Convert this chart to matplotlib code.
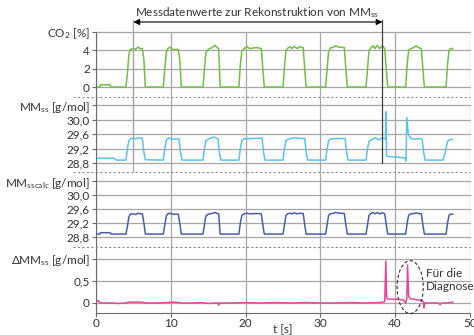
import matplotlib
matplotlib.use('Agg')
import matplotlib.pyplot as plt
from matplotlib.patches import Ellipse
from matplotlib.lines import Line2D
import matplotlib.transforms as mtrans

plt.rcParams['font.family'] = ['Lato', 'DejaVu Sans']
plt.rcParams['mathtext.fontset'] = 'custom'
plt.rcParams['mathtext.rm'] = 'Lato'
plt.rcParams['mathtext.it'] = 'Lato'

# CO2 [%]
co2_t = [0, 0.5, 0.6, 1.9, 2.0, 4.0, 4.2, 4.4, 4.6, 5.0, 5.3, 5.6, 5.9, 6.2, 6.4, 6.6,
         9.0, 9.2, 9.4, 9.6, 9.9, 10.2, 11.0, 11.2, 11.4,
         14.3, 14.5, 14.7, 15.0, 15.5, 15.9, 16.2, 16.4, 16.6,
         19.1, 19.3, 19.5, 19.8, 20.2, 20.5, 21.5, 22.1, 22.3, 22.5,
         25.0, 25.2, 25.4, 25.6, 25.9, 26.2, 26.5, 26.9, 27.3, 27.7, 27.9, 28.1,
         30.7, 30.9, 31.1, 31.4, 31.7, 32.0, 32.5, 33.2, 33.4, 33.6,
         36.1, 36.3, 36.5, 36.7, 37.0, 37.3, 37.6, 37.9, 38.3, 38.6, 38.8, 39.0,
         41.4, 41.6, 41.8, 42.1, 42.5, 42.8, 43.1, 43.5, 43.7, 43.9,
         46.8, 47.0, 47.2, 47.4, 47.7]
co2_v = [0, 0, 0.25, 0.25, 0, 0, 1.5, 3.6, 4.1, 4.2, 4.1, 4.35, 4.2, 4.2, 3.0, 0,
         0, 2.0, 3.8, 4.2, 4.35, 4.1, 4.1, 3.0, 0,
         0, 2.0, 3.8, 4.1, 4.3, 4.55, 4.3, 4.2, 0,
         0, 2.5, 3.9, 4.2, 4.4, 4.2, 4.3, 4.2, 2.0, 0,
         0, 2.2, 4.0, 4.2, 4.4, 4.2, 4.45, 4.2, 4.4, 4.3, 2.0, 0,
         0, 2.0, 3.9, 4.3, 4.3, 4.5, 4.35, 4.3, 2.0, 0,
         0, 2.0, 4.0, 4.2, 4.5, 4.2, 4.55, 4.2, 4.5, 4.2, 2.0, 0,
         0, 2.5, 4.0, 4.2, 4.3, 4.5, 4.3, 4.2, 2.0, 0,
         0, 2.5, 4.0, 4.2, 4.2]

# MM_ss [g/mol]
mm_t = [0, 2.5, 2.7, 4.0, 4.2, 4.4, 4.7, 5.2, 5.8, 6.2, 6.4, 6.6,
        9.0, 9.2, 9.4, 9.7, 10.2, 11.1, 11.3, 11.5,
        14.3, 14.5, 14.7, 15.2, 15.8, 16.3, 16.5, 16.7,
        19.1, 19.3, 19.5, 19.8, 21.0, 22.2, 22.4, 22.6,
        25.0, 25.2, 25.4, 25.7, 26.5, 27.5, 27.9, 28.1, 28.3,
        30.7, 30.9, 31.1, 31.4, 32.5, 33.3, 33.5, 33.7,
        36.1, 36.3, 36.5, 36.8, 37.3, 37.8, 38.3, 38.7, 38.78, 38.84, 39.0,
        40.5, 41.3, 41.45, 41.55, 41.75, 42.0, 42.4, 43.2, 43.6, 43.8, 44.0,
        46.4, 46.7, 47.0, 47.3, 47.7]
mm_v = [28.93, 28.93, 28.88, 28.88, 29.2, 29.42, 29.48, 29.47, 29.5, 29.48, 29.1, 28.89,
        28.88, 29.2, 29.43, 29.5, 29.46, 29.47, 29.1, 28.88,
        28.88, 29.2, 29.42, 29.48, 29.52, 29.47, 29.1, 28.88,
        28.88, 29.2, 29.42, 29.47, 29.48, 29.49, 29.1, 28.88,
        28.88, 29.2, 29.42, 29.46, 29.5, 29.48, 29.48, 29.1, 28.88,
        28.88, 29.2, 29.42, 29.47, 29.48, 29.48, 29.1, 28.88,
        28.88, 29.2, 29.4, 29.44, 29.5, 29.44, 29.5, 29.46, 30.22, 29.02, 28.98,
        28.96, 28.94, 28.85, 30.06, 29.6, 29.5, 29.46, 29.48, 29.46, 29.1, 28.88,
        28.88, 29.1, 29.4, 29.45, 29.45]

# MM_sscalc [g/mol]
mmc_t = co2_t
mmc_v = [28.88, 28.88, 28.92, 28.92, 28.88, 28.88, 29.1, 29.38, 29.45, 29.46, 29.44, 29.48, 29.46, 29.46, 29.2, 28.88,
         28.88, 29.15, 29.4, 29.46, 29.48, 29.45, 29.45, 29.2, 28.88,
         28.88, 29.15, 29.4, 29.45, 29.47, 29.5, 29.47, 29.46, 28.88,
         28.88, 29.2, 29.42, 29.46, 29.48, 29.46, 29.47, 29.46, 29.15, 28.88,
         28.88, 29.15, 29.42, 29.46, 29.48, 29.46, 29.49, 29.46, 29.48, 29.47, 29.15, 28.88,
         28.88, 29.15, 29.42, 29.47, 29.47, 29.5, 29.48, 29.47, 29.15, 28.88,
         28.88, 29.15, 29.42, 29.46, 29.5, 29.46, 29.5, 29.46, 29.49, 29.46, 29.15, 28.88,
         28.88, 29.2, 29.42, 29.46, 29.47, 29.49, 29.47, 29.46, 29.15, 28.88,
         28.88, 29.2, 29.42, 29.45, 29.45]

# Delta MM_ss [g/mol]
dmm_t = [0, 0.3, 0.6, 2.0, 3.0, 4.0, 4.5, 6.0, 6.8, 8.0, 9.5, 10.5, 11.5, 13.0, 14.0,
         15.0, 16.3, 16.4, 16.5, 18.0, 20.0, 22.0, 24.0, 26.0, 28.0, 30.0, 32.0,
         34.0, 36.0, 38.0, 38.6, 38.75, 38.85, 39.0, 40.5, 41.1, 41.4, 41.55, 41.65,
         41.8, 42.0, 43.0, 43.6, 43.8, 43.85, 43.95, 45.0, 45.8, 46.0, 46.2, 47.0, 47.7]
dmm_v = [0.05, 0.05, 0.0, 0.0, -0.01, 0.0, 0.02, 0.02, 0.0, 0.0, 0.01, 0.02, 0.0, 0.0, 0.01,
         -0.01, 0.0, -0.05, 0.0, 0.0, 0.01, 0.0, 0.01, 0.0, 0.01, 0.0, 0.0,
         0.01, 0.0, 0.01, 0.03, 0.95, 0.12, 0.09, 0.08, 0.07, 0.0, 0.1, 0.86,
         0.15, 0.1, 0.07, 0.06, 0.01, -0.11, 0.0, 0.0, 0.0, -0.04, 0.0, 0.0, 0.02]

x_ticks = [0, 10, 20, 30, 40, 50]

W, H = 474, 335
fig = plt.figure(figsize=(W / 100, H / 100), dpi=100)

grid_c = '#a6a6a6'
spine_c = '#6b6b6b'
text_c = '#333333'

# panel bounds in pixels (top, bottom)
bounds = [(32, 97), (97, 172), (172, 247), (247, 313)]
left, right = 96 / W, 470 / W
axes = []
for top, bot in bounds:
    ax = fig.add_axes([left, 1 - bot / H, right - left, (bot - top) / H])
    axes.append(ax)

panels = [
    (co2_t, co2_v, '#72bf44', (-1.08, 6.0), [0, 2, 4, 6], ['0', '2', '4', 'CO$_2$ [%]']),
    (mm_t, mm_v, '#5bc2ee', (28.55, 30.63), [28.8, 29.2, 29.6, 30.0, 30.4],
     ['28,8', '29,2', '29,6', '30,0', 'MM$_\\mathrm{ss}$ [g/mol]']),
    (mmc_t, mmc_v, '#4a5daa', (28.51, 30.66), [28.8, 29.2, 29.6, 30.0, 30.4],
     ['28,8', '29,2', '29,6', '30,0', 'MM$_\\mathrm{sscalc}$ [g/mol]']),
    (dmm_t, dmm_v, '#e4489b', (-0.227, 1.27), [0, 0.5, 1.0],
     ['0', '0,5', 'ΔMM$_\\mathrm{ss}$ [g/mol]']),
]

for ax, (t, v, col, ylim, yt, ylab) in zip(axes, panels):
    ax.plot(t, v, color=col, lw=1.1, zorder=3)
    ax.set_xlim(0, 50)
    ax.set_ylim(*ylim)
    ax.set_yticks(yt)
    ax.set_yticklabels(ylab)
    ax.set_xticks(x_ticks)
    for yv in yt:
        ax.axhline(yv, color=grid_c, lw=0.9, zorder=1, clip_on=False)
    for xv in x_ticks:
        ax.axvline(xv, color=grid_c, lw=0.9, zorder=1)
    for s in ['top', 'bottom', 'right']:
        ax.spines[s].set_visible(False)
    ax.spines['left'].set_color(spine_c)
    ax.spines['left'].set_zorder(4)
    ax.tick_params(axis='y', length=3, width=0.8, color=spine_c, labelsize=8.5,
                   labelcolor=text_c, pad=1.5)
    ax.tick_params(axis='x', bottom=False, labelbottom=False)

# extra vertical gridline at 5 s in the upper two panels
for ax in axes[:2]:
    ax.axvline(5, color=grid_c, lw=0.9, zorder=1)

ax4 = axes[3]
ax4.spines['bottom'].set_visible(True)
ax4.spines['bottom'].set_color(spine_c)
ax4.tick_params(axis='x', bottom=True, labelbottom=True, length=3, width=0.8,
                color=spine_c, labelsize=8.5, labelcolor=text_c, pad=0.5)
ax4.set_xlabel('t [s]', fontsize=8.5, color=text_c, labelpad=-3.5)

# dashed separators between the panels
for top, bot in bounds[1:]:
    y = 1 - top / H
    fig.add_artist(Line2D([73 / W, 470 / W], [y, y], color='#8c8c8c', lw=0.8,
                          linestyle=(0, (2, 2))))

# reconstruction window: arrow and vertical markers
blend = mtrans.blended_transform_factory(axes[0].transData, fig.transFigure)
y_arrow = 1 - 22 / H
y_end = 1 - 163 / H
fig.add_artist(Line2D([5, 5], [1 - 20 / H, y_end], color=grid_c, lw=0.9, transform=blend))
fig.add_artist(Line2D([38.3, 38.3], [1 - 20 / H, y_end], color='#404040', lw=0.9, transform=blend))
axes[0].annotate('', xy=(5, y_arrow), xytext=(38.3, y_arrow), xycoords=blend, textcoords=blend,
                 arrowprops=dict(arrowstyle='<|-|>', color='black', lw=0.8,
                                 mutation_scale=9, shrinkA=0, shrinkB=0))
axes[0].text(21.5, 1 - 13 / H, 'Messdatenwerte zur Rekonstruktion von MM$_\\mathrm{ss}$',
             transform=blend, ha='center', va='center', fontsize=8.5, color=text_c)

# diagnosis ellipse
ax4.add_patch(Ellipse((42.0, 0.36), 3.5, 1.2, fill=False, edgecolor='#333333', lw=0.8,
                      linestyle=(0, (3, 2)), clip_on=False, zorder=5))
ax4.text(44.1, 0.52, 'Für die\nDiagnose', ha='left', va='center', fontsize=8.5,
         color=text_c, linespacing=1.25, clip_on=False)

fig.savefig('out.png', dpi=100)
